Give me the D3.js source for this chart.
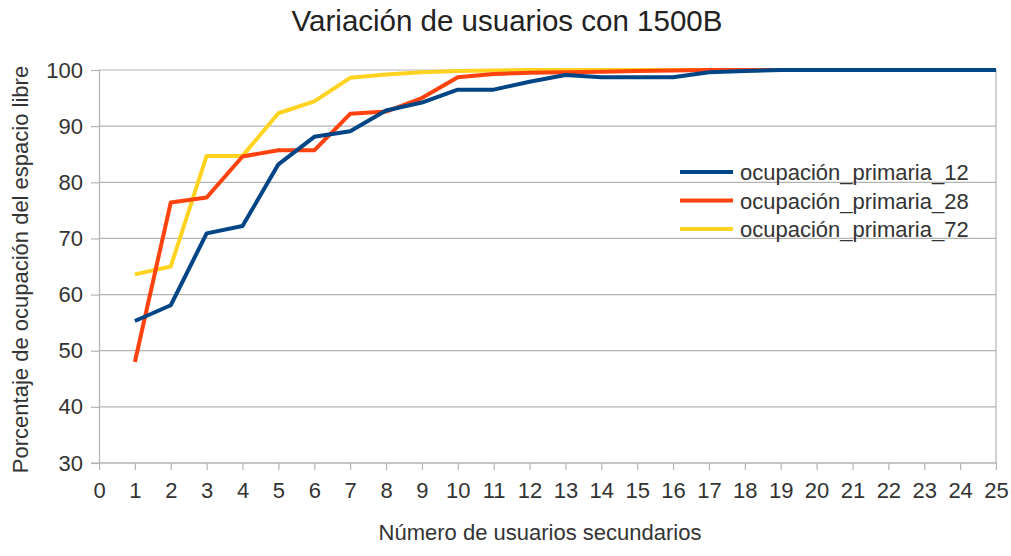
<!DOCTYPE html>
<html>
<head>
<meta charset="utf-8">
<script src="https://cdn.jsdelivr.net/npm/d3@7"></script>
<style>
  html, body { margin: 0; padding: 0; background: #fff; }
  svg { display: block; font-family: "Liberation Sans", Arial, sans-serif; }
</style>
</head>
<body>
<svg id="chart" width="1011" height="556"></svg>
<script>
// Number of secondary users (x) and free-space occupation (%) per primary occupation
const usuarios = d3.range(1, 26);
const ocupacion12 = [55.3, 58.1, 70.9, 72.2, 83.2, 88.1, 89.1, 92.8, 94.2, 96.5, 96.5, 97.9, 99.1, 98.7, 98.7, 98.7, 99.6, 99.8, 100, 100, 100, 100, 100, 100, 100];
const ocupacion28 = [48.0, 76.4, 77.3, 84.6, 85.7, 85.7, 92.2, 92.6, 95.0, 98.7, 99.3, 99.5, 99.6, 99.7, 99.8, 99.9, 100, 100, 100, 100, 100, 100, 100, 100, 100];
const ocupacion72 = [63.6, 65.0, 84.7, 84.7, 92.3, 94.4, 98.6, 99.2, 99.6, 99.8, 99.9, 100, 100, 100, 100, 100, 100, 100, 100, 100, 100, 100, 100, 100, 100];
const seriesNames = ["ocupación_primaria_12", "ocupación_primaria_28", "ocupación_primaria_72"];
const seriesColors = ["#004586", "#ff420e", "#ffd320"];
const xTicks = d3.range(0, 26);
const yTicks = [30, 40, 50, 60, 70, 80, 90, 100];

const svg = d3.select("#chart");
const plot = { left: 99, right: 996, top: 70, bottom: 463 };

const x = d3.scaleLinear().domain([0, 25]).range([plot.left, plot.right]);
const y = d3.scaleLinear().domain([30, 100]).range([plot.bottom, plot.top]);

const gridColor = "#b3b3b3";
const labelSize = "22px";

// horizontal grid lines
svg.append("g")
  .selectAll("line")
  .data(yTicks)
  .join("line")
  .attr("x1", plot.left).attr("x2", plot.right)
  .attr("y1", d => y(d)).attr("y2", d => y(d))
  .attr("stroke", gridColor).attr("stroke-width", 1.2);

// plot area border (right side)
svg.append("line")
  .attr("x1", plot.right).attr("x2", plot.right)
  .attr("y1", plot.top).attr("y2", plot.bottom)
  .attr("stroke", gridColor).attr("stroke-width", 1.2);

// y axis
const yAxis = svg.append("g")
  .attr("transform", `translate(${plot.left},0)`)
  .call(d3.axisLeft(y).tickValues(yTicks).tickSize(8).tickPadding(8));
// x axis
const xAxis = svg.append("g")
  .attr("transform", `translate(0,${plot.bottom})`)
  .call(d3.axisBottom(x).tickValues(xTicks).tickSize(7).tickPadding(12));

[yAxis, xAxis].forEach(g => {
  g.select(".domain").attr("stroke", gridColor).attr("stroke-width", 1.2);
  g.selectAll(".tick line").attr("stroke", gridColor).attr("stroke-width", 1.2);
  g.selectAll(".tick text")
    .attr("fill", "#333")
    .style("font-size", labelSize)
    .style("font-family", "'Liberation Sans', Arial, sans-serif");
});
// extend x axis line to the y tick end
xAxis.select(".domain").attr("d", `M${plot.left - 8},0H${plot.right}`);

// series lines
const seriesData = [ocupacion12, ocupacion28, ocupacion72];
const line = d3.line()
  .x((d, i) => x(usuarios[i]))
  .y(d => y(d));

// draw order: 72 bottom, 28, then 12 on top
[2, 1, 0].forEach(k => {
  svg.append("path")
    .datum(seriesData[k])
    .attr("fill", "none")
    .attr("stroke", seriesColors[k])
    .attr("stroke-width", 4)
    .attr("stroke-linejoin", "round")
    .attr("d", line);
});

// title
svg.append("text")
  .attr("x", 507).attr("y", 31)
  .attr("text-anchor", "middle")
  .attr("fill", "#222")
  .style("font-size", "29.5px")
  .text("Variación de usuarios con 1500B");

// axis titles
svg.append("text")
  .attr("x", 540).attr("y", 540)
  .attr("text-anchor", "middle")
  .attr("fill", "#333")
  .style("font-size", labelSize)
  .text("Número de usuarios secundarios");

svg.append("text")
  .attr("transform", `translate(28,${(plot.top + plot.bottom) / 2 + 3}) rotate(-90)`)
  .attr("text-anchor", "middle")
  .attr("fill", "#333")
  .style("font-size", labelSize)
  .text("Porcentaje de ocupación del espacio libre");

// legend
const legend = svg.append("g");
seriesNames.forEach((name, i) => {
  const ly = 172 + i * 28.5;
  legend.append("line")
    .attr("x1", 680).attr("x2", 733)
    .attr("y1", ly).attr("y2", ly)
    .attr("stroke", seriesColors[i]).attr("stroke-width", 4);
  legend.append("text")
    .attr("x", 740).attr("y", ly + 8)
    .attr("fill", "#333")
    .style("font-size", labelSize)
    .text(name);
});
</script>
</body>
</html>
